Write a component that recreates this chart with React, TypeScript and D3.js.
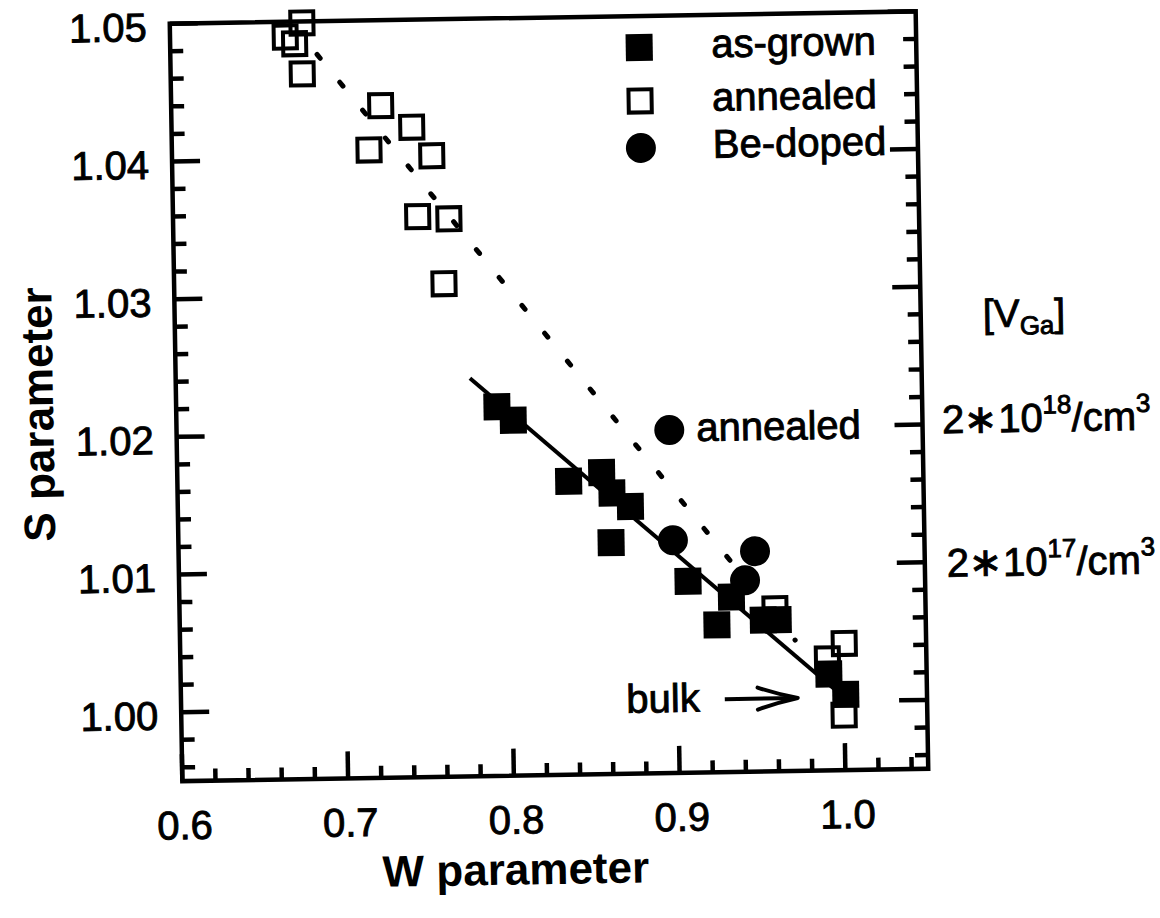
import React from 'react';
import * as d3 from 'd3';

// ---- data ----
const asGrownW = [0.7935, 0.8032, 0.836, 0.856, 0.862, 0.873, 0.861, 0.907, 0.924, 0.933, 0.952, 0.961, 0.991, 1.001];
const asGrownS = [1.0218, 1.0208, 1.0163, 1.0169, 1.0154, 1.0144, 1.0118, 1.0089, 1.0057, 1.0077, 1.006, 1.006, 1.002, 1.0005];

const annealedW = [0.6695, 0.6797, 0.6751, 0.6794, 0.7264, 0.7449, 0.7189, 0.7567, 0.7476, 0.7664, 0.7628, 0.9592, 1.0006, 0.9903, 0.9998];
const annealedS = [1.0489, 1.0499, 1.0484, 1.0462, 1.0438, 1.0422, 1.0406, 1.0401, 1.0357, 1.0355, 1.0308, 1.0068, 1.0042, 1.0031, 0.999];

const beDopedW = [0.8972, 0.8983, 0.9477, 0.9414];
const beDopedS = [1.0199, 1.0119, 1.011, 1.0089];

const asGrownFitW = [0.7775, 0.998];
const asGrownFitS = [1.0239, 1.0005];
const annealedFitW = [0.6885, 0.971];
const annealedFitS = [1.0476, 1.0045];

const xTickValues = [0.6, 0.7, 0.8, 0.9, 1.0];
const xTickLabels = ['0.6', '0.7', '0.8', '0.9', '1.0'];
const yTickValues = [1.0, 1.01, 1.02, 1.03, 1.04, 1.05];
const yTickLabels = ['1.00', '1.01', '1.02', '1.03', '1.04', '1.05'];

const legendLabels = ['as-grown', 'annealed', 'Be-doped'];
const vgaTickValues = [1.02, 1.01];
const vgaExponents = ['18', '17'];

const FONT = '"Liberation Sans", Arial, Helvetica, sans-serif';

export default function App() {
  const W = 1160;
  const H = 918;
  const x = d3.scaleLinear().domain([0.6, 1.05]).range([176, 922]);
  const y = d3.scaleLinear().domain([0.995, 1.05]).range([775, 17.5]);
  const [x0, x1] = x.range();
  const [y0, y1] = y.range();

  const xMinor = d3.range(0, 23).map((i) => 0.6 + i * 0.02);
  const yMinor = d3.range(0, 28).map((i) => 0.996 + i * 0.002);
  const isMajorX = (v: number) => Math.abs(v * 10 - Math.round(v * 10)) < 1e-6;
  const isMajorY = (v: number) => Math.abs(v * 100 - Math.round(v * 100)) < 1e-6;

  const line = d3.line<[number, number]>().x((d) => x(d[0])).y((d) => y(d[1]));
  const asFit = line(asGrownFitW.map((w, i) => [w, asGrownFitS[i]] as [number, number]));
  const anFit = line(annealedFitW.map((w, i) => [w, annealedFitS[i]] as [number, number]));

  const sq = 27;
  const open = 23;
  const r = 15;

  // annotation positions (data coordinates)
  const arrowY = y(1.0003);
  const arrowX0 = x(0.928);
  const arrowX1 = x(0.972);

  const legendX = 645;
  const legendY = [49, 102.5, 149.5];

  const txt = { stroke: '#000', strokeWidth: 0.9 };

  return (
    <svg width={W} height={H} style={{ position: 'absolute', left: 0, top: 0, background: '#fff' }}
      fontFamily={FONT}>
      <rect x={0} y={0} width={W} height={H} fill="#fff" />
      <g transform="rotate(-0.95 549 396)">
        {/* fit lines */}
        <path d={anFit || ''} fill="none" stroke="#000" strokeWidth={5} strokeDasharray="5 31" strokeLinecap="round" />
        <path d={asFit || ''} fill="none" stroke="#000" strokeWidth={4} />

        {/* annealed: open squares */}
        {annealedW.map((w, i) => (
          <rect key={'a' + i} x={x(w) - open / 2} y={y(annealedS[i]) - open / 2} width={open} height={open}
            fill="none" stroke="#000" strokeWidth={4} />
        ))}
        {/* as-grown: filled squares */}
        {asGrownW.map((w, i) => (
          <rect key={'g' + i} x={x(w) - sq / 2} y={y(asGrownS[i]) - sq / 2} width={sq} height={sq} fill="#000" />
        ))}
        {/* Be-doped: filled circles */}
        {beDopedW.map((w, i) => (
          <circle key={'b' + i} cx={x(w)} cy={y(beDopedS[i])} r={r} fill="#000" />
        ))}

        {/* frame */}
        <rect x={x0} y={y1} width={x1 - x0} height={y0 - y1} fill="none" stroke="#000" strokeWidth={4.5} />

        {/* bottom ticks */}
        {xMinor.map((v, i) => {
          const len = isMajorX(v) ? 27 : 12;
          return <line key={'xt' + i} x1={x(v)} x2={x(v)} y1={y0} y2={y0 - len} stroke="#000" strokeWidth={4.5} />;
        })}
        {/* left & right ticks */}
        {yMinor.map((v, i) => {
          const len = isMajorY(v) ? 28 : 13;
          return (
            <g key={'yt' + i}>
              <line x1={x0} x2={x0 + len} y1={y(v)} y2={y(v)} stroke="#000" strokeWidth={4.5} />
              <line x1={x1} x2={x1 - len} y1={y(v)} y2={y(v)} stroke="#000" strokeWidth={4.5} />
            </g>
          );
        })}

        {/* tick labels */}
        {xTickValues.map((v, i) => (
          <text key={'xl' + i} x={x(v) + 2} y={y0 + 58} textAnchor="middle" fontSize={40} {...txt}>{xTickLabels[i]}</text>
        ))}
        {yTickValues.map((v, i) => (
          <text key={'yl' + i} x={x0 - 23} y={y(v) + 17} textAnchor="end" fontSize={40} {...txt}>{yTickLabels[i]}</text>
        ))}

        {/* axis titles */}
        <text x={508} y={884} textAnchor="middle" fontSize={44} fontWeight="bold">W parameter</text>
        <text transform="translate(53 406) rotate(-90)" textAnchor="middle" fontSize={44} fontWeight="bold">S parameter</text>

        {/* legend */}
        <rect x={legendX - sq / 2} y={legendY[0] - sq / 2} width={sq} height={sq} fill="#000" />
        <rect x={legendX - open / 2} y={legendY[1] - open / 2} width={open} height={open} fill="none" stroke="#000" strokeWidth={4} />
        <circle cx={legendX} cy={legendY[2]} r={r} fill="#000" />
        {legendLabels.map((t, i) => (
          <text key={'lg' + i} x={717} y={legendY[i] + 11} fontSize={40} {...txt}>{t}</text>
        ))}

        {/* annotations */}
        <text x={x(beDopedW[0]) + 27} y={y(beDopedS[0]) + 11.5} fontSize={40} {...txt}>annealed</text>
        <text x={arrowX0 - 25} y={arrowY + 12} textAnchor="end" fontSize={40} {...txt}>bulk</text>
        <path d={`M${arrowX0},${arrowY} L${arrowX1},${arrowY}`} stroke="#000" strokeWidth={4} fill="none" />
        <path d={`M${arrowX1 - 40},${arrowY - 11} Q${arrowX1 - 20},${arrowY - 4} ${arrowX1},${arrowY} Q${arrowX1 - 20},${arrowY + 4} ${arrowX1 - 40},${arrowY + 11}`}
          stroke="#000" strokeWidth={4} fill="none" strokeLinecap="round" strokeLinejoin="round" />

        {/* right side [VGa] labels */}
        <text x={x1 + 62} y={y(1.027)} fontSize={39} {...txt}>
          [V<tspan fontSize={26} dy={8}>Ga</tspan><tspan dy={-8}>]</tspan>
        </text>
        {vgaTickValues.map((v, i) => (
          <text key={'vg' + i} x={x1 + (i === 0 ? 19.5 : 22)} y={y(v) + (i === 0 ? 9 : 15)} fontSize={40} {...txt}>
            2∗10<tspan fontSize={26} dy={-18}>{vgaExponents[i]}</tspan><tspan dy={18}>/cm</tspan><tspan fontSize={26} dy={-18}>3</tspan>
          </text>
        ))}
      </g>
    </svg>
  );
}
